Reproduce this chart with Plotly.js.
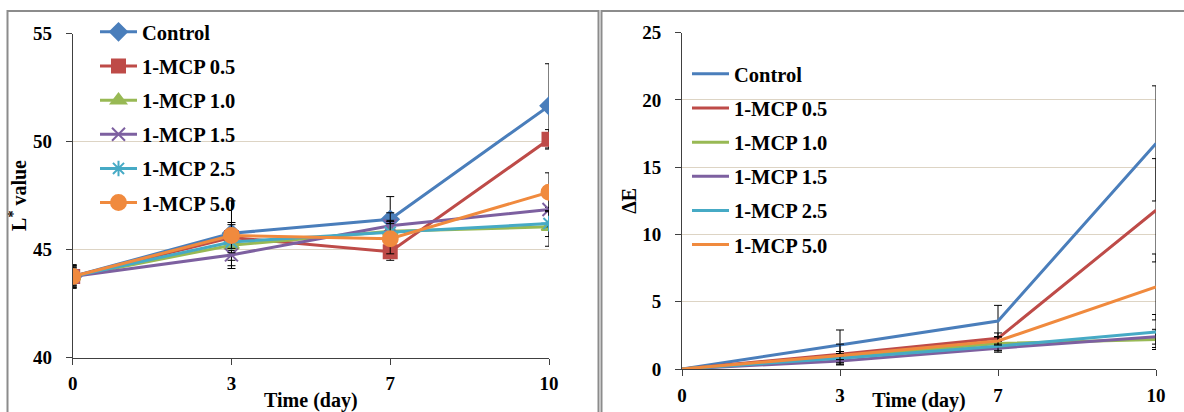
<!DOCTYPE html>
<html>
<head>
<meta charset="utf-8">
<script src="https://cdn.plot.ly/plotly-3.0.1.min.js"></script>
<style>
html,body{margin:0;padding:0;background:#fff;}
#chart{width:1184px;height:412px;}
</style>
</head>
<body>
<div id="chart"></div>
<script>
// ---- data ----
const days = ['0', '3', '7', '10'];
const seriesNames = ['Control', '1-MCP 0.5', '1-MCP 1.0', '1-MCP 1.5', '1-MCP 2.5', '1-MCP 5.0'];

// L* value
const lControl = [43.75, 45.75, 46.4, 51.65];
const lMcp05   = [43.75, 45.55, 44.9, 50.1];
const lMcp10   = [43.75, 45.2, 45.85, 46.05];
const lMcp15   = [43.75, 44.75, 46.1, 46.85];
const lMcp25   = [43.75, 45.35, 45.8, 46.2];
const lMcp50   = [43.75, 45.65, 45.5, 47.65];

const lErrControl = [0.55, 1.5, 1.05, 1.95];
const lErrMcp05   = [0.4, 0.6, 0.4, 0.45];
const lErrMcp10   = [0.45, 0.7, 0.5, 0.9];
const lErrMcp15   = [0.5, 0.63, 0.6, 0.8];
const lErrMcp25   = [0.4, 0.5, 0.5, 0.6];
const lErrMcp50   = [0.5, 0.6, 0.7, 0.9];

// Delta E
const eControl = [0, 1.76, 3.57, 16.77];
const eMcp05   = [0, 1.1, 2.28, 11.8];
const eMcp10   = [0, 0.9, 1.9, 2.2];
const eMcp15   = [0, 0.6, 1.55, 2.4];
const eMcp25   = [0, 0.8, 1.7, 2.75];
const eMcp50   = [0, 1.0, 2.08, 6.1];

const eErrControl = [0, 1.14, 1.16, 4.28];
const eErrMcp05   = [0, 0.75, 0.4, 3.84];
const eErrMcp10   = [0, 0.4, 0.5, 0.6];
const eErrMcp15   = [0, 0.3, 0.3, 0.55];
const eErrMcp25   = [0, 0.35, 0.35, 1.3];
const eErrMcp50   = [0, 0.3, 0.3, 2.45];

const lSeries = [lControl, lMcp05, lMcp10, lMcp15, lMcp25, lMcp50];
const lErrors = [lErrControl, lErrMcp05, lErrMcp10, lErrMcp15, lErrMcp25, lErrMcp50];
const eSeries = [eControl, eMcp05, eMcp10, eMcp15, eMcp25, eMcp50];
const eErrors = [eErrControl, eErrMcp05, eErrMcp10, eErrMcp15, eErrMcp25, eErrMcp50];

// ---- styles ----
const colors = ['#4A7EBB', '#BE4B48', '#98B954', '#7D60A0', '#46AAC5', '#F08A3E'];
const symbols = ['diamond', 'square', 'triangle-up', 'x-thin-open', 'asterisk-open', 'circle'];
const sizes = [13, 13, 13, 13, 13, 15];
const W = 1184, H = 412;
const FONT = 'Liberation Serif, DejaVu Serif, Times New Roman, serif';
const f = (s) => ({family: FONT, size: s, color: '#000', weight: 700});

const traces = [];
seriesNames.forEach((name, i) => {
  traces.push({
    type: 'scatter', mode: 'lines+markers', name: name,
    x: days, y: lSeries[i], xaxis: 'x', yaxis: 'y',
    legend: 'legend', legendgroup: 'l' + i,
    line: {color: colors[i], width: 3},
    marker: {symbol: symbols[i], size: sizes[i], color: colors[i], line: {color: colors[i], width: 2}},
    error_y: {type: 'data', array: lErrors[i], visible: true, color: '#000', thickness: 1, width: 4}
  });
});
seriesNames.forEach((name, i) => {
  traces.push({
    type: 'scatter', mode: 'lines', name: name,
    x: days, y: eSeries[i], xaxis: 'x2', yaxis: 'y2',
    legend: 'legend2', legendgroup: 'e' + i,
    line: {color: colors[i], width: 3},
    error_y: {type: 'data', array: eErrors[i], visible: true, color: '#000', thickness: 1, width: 4}
  });
});

const gridColor = '#DDD4C4';
const axisCommon = {
  showline: true, linecolor: '#404040', linewidth: 1,
  ticks: 'outside', ticklen: 6, tickcolor: '#404040', tickwidth: 1,
  tickfont: f(19), zeroline: false
};

const layout = {
  width: W, height: H,
  margin: {l: 0, r: 0, t: 0, b: 0},
  paper_bgcolor: '#fff', plot_bgcolor: 'rgba(0,0,0,0)',
  showlegend: true,
  font: f(19),
  xaxis: Object.assign({}, axisCommon, {
    domain: [72.7 / W, 549 / W], anchor: 'y', type: 'category', range: [0, 3],
    showgrid: false, ticklabelstandoff: 3,
    title: {text: 'Time (day)', font: f(20), standoff: 0}
  }),
  yaxis: Object.assign({}, axisCommon, {
    domain: [(H - 357.5) / H, (H - 33.5) / H], anchor: 'x', range: [40, 55], dtick: 5,
    showgrid: true, gridcolor: gridColor, gridwidth: 1, ticklabelstandoff: 10,
    title: {text: 'L<sup>*</sup> value', font: f(20), standoff: 0}
  }),
  xaxis2: Object.assign({}, axisCommon, {
    domain: [682 / W, 1156 / W], anchor: 'y2', type: 'category', range: [0, 3],
    showgrid: false, ticklabelstandoff: 3,
    title: {text: 'Time (day)', font: f(20), standoff: 0}
  }),
  yaxis2: Object.assign({}, axisCommon, {
    domain: [(H - 369) / H, (H - 32.7) / H], anchor: 'x2', range: [0, 25], dtick: 5,
    showgrid: true, gridcolor: gridColor, gridwidth: 1, ticklabelstandoff: 10,
    title: {text: 'ΔE', font: f(20), standoff: 0}
  }),
  legend: {
    x: 95 / W, y: 1 - 12 / H, xanchor: 'left', yanchor: 'top',
    bgcolor: 'rgba(0,0,0,0)', font: f(20.5), itemwidth: 37,
    traceorder: 'grouped', tracegroupgap: 4.5
  },
  legend2: {
    x: 687 / W, y: 1 - 54 / H, xanchor: 'left', yanchor: 'top',
    bgcolor: 'rgba(0,0,0,0)', font: f(20.5), itemwidth: 37,
    traceorder: 'grouped', tracegroupgap: 4.5
  },
  shapes: [
    {type: 'rect', xref: 'paper', yref: 'paper', x0: 7.5 / W, x1: 598.5 / W, y0: -0.05, y1: 1 - 11 / H,
     line: {color: '#8C8C8C', width: 2}},
    {type: 'rect', xref: 'paper', yref: 'paper', x0: 601.5 / W, x1: 1190 / W, y0: -0.05, y1: 1 - 11 / H,
     line: {color: '#8C8C8C', width: 2}}
  ]
};

Plotly.newPlot('chart', traces, layout, {displayModeBar: false, staticPlot: true});
</script>
</body>
</html>
